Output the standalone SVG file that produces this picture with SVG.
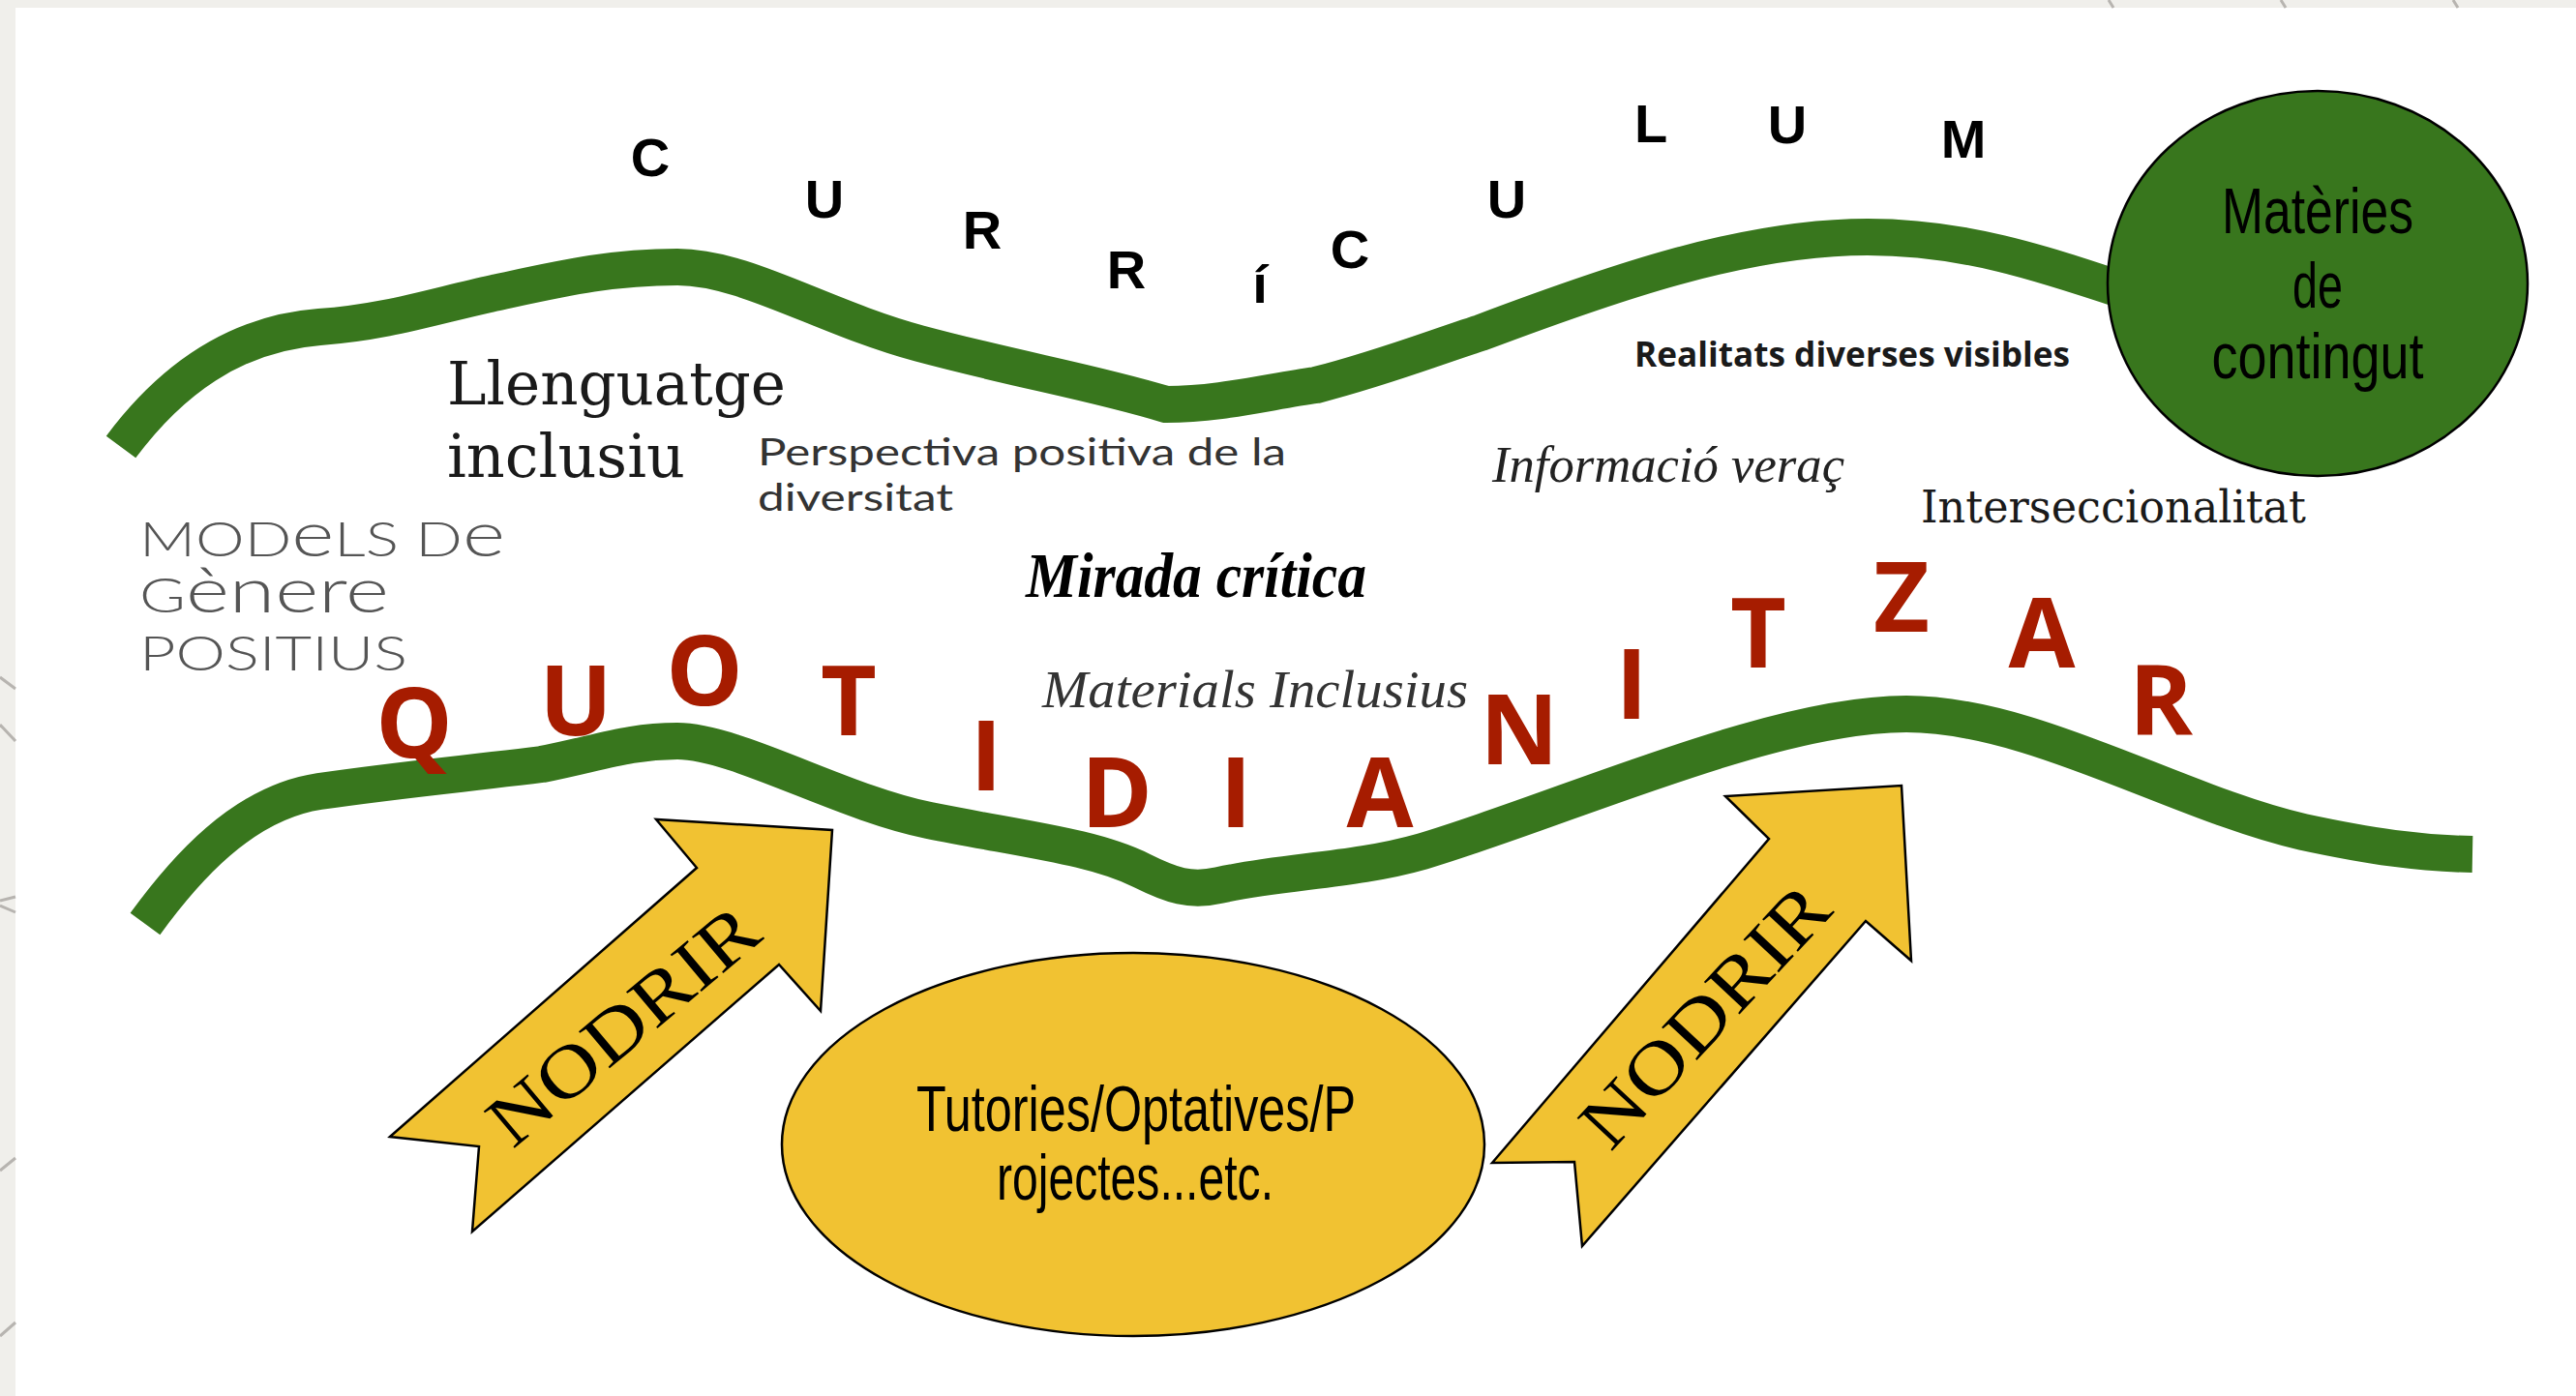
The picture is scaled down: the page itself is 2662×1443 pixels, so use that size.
<svg xmlns="http://www.w3.org/2000/svg" width="2662" height="1443" viewBox="0 0 2662 1443">
<style>
.band{fill:none;stroke:#38761d;stroke-width:38;stroke-linecap:butt;stroke-linejoin:round}
.deco{stroke:#b7b4b0;stroke-width:3;fill:none}
.cur{font-family:"Liberation Sans",Arial,sans-serif;font-weight:700;font-size:56px;fill:#000;text-anchor:middle}
.quo{font-family:"Open Sans","Liberation Sans",sans-serif;font-weight:700;font-size:100px;fill:#a61c00;text-anchor:middle}
.oval{font-family:"Liberation Sans",Arial,sans-serif;font-size:66px;fill:#000;text-anchor:middle}
.serif{font-family:"DejaVu Serif","Liberation Serif",serif;fill:#1a1a1a}
.arrow{fill:#f1c232;stroke:#000;stroke-width:2.5;stroke-linejoin:miter}
.nod{font-family:"Liberation Serif","Times New Roman",serif;font-size:76px;fill:#000;text-anchor:middle}
</style>
<rect x="0" y="0" width="2662" height="1443" fill="#f0efeb"/>
<rect x="16" y="8" width="2646" height="1435" fill="#ffffff"/>
<g id="decoration">
<line class="deco" x1="2179" y1="0" x2="2184" y2="8"/>
<line class="deco" x1="2357" y1="0" x2="2362" y2="8"/>
<line class="deco" x1="2535" y1="0" x2="2540" y2="8"/>
<line class="deco" x1="0" y1="700" x2="16" y2="712"/>
<line class="deco" x1="0" y1="749" x2="16" y2="766"/>
<line class="deco" x1="0" y1="931" x2="16" y2="927"/>
<line class="deco" x1="0" y1="936" x2="16" y2="943"/>
<line class="deco" x1="0" y1="1210" x2="16" y2="1197"/>
<line class="deco" x1="0" y1="1381" x2="16" y2="1367"/>
</g>
<g id="connectors">
<path id="band-top" class="band" d="M 125,462 C 175,395 240,345 330,338 C 400,333 450,316 510,303 C 580,288 630,276 700,276 C 770,276 850,328 950,355 C 1050,382 1130,395 1205,418 C 1260,418 1310,405 1360,398 C 1430,380 1480,360 1530,344 C 1660,295 1800,245 1930,245 C 2030,245 2110,272 2200,302"/>
<path id="band-bottom" class="band" d="M 150,955 C 190,900 250,830 330,818 C 420,805 480,800 560,790 C 620,778 650,766 700,766 C 760,766 870,830 960,848 C 1060,868 1130,875 1180,900 C 1210,915 1230,922 1260,915 C 1330,900 1400,900 1470,880 C 1620,835 1830,738 1970,738 C 2100,738 2250,830 2380,860 C 2450,875 2500,882 2555,883"/>
</g>
<g id="node-materies">
<ellipse cx="2395" cy="293" rx="217" ry="199" fill="#38761d" stroke="#000" stroke-width="2.5"/>
<text class="oval" x="2395" y="241" textLength="198" lengthAdjust="spacingAndGlyphs">Matèries</text>
<text class="oval" x="2395" y="318" textLength="52" lengthAdjust="spacingAndGlyphs">de</text>
<text class="oval" x="2395" y="391" textLength="219" lengthAdjust="spacingAndGlyphs">contingut</text>
</g>
<g id="node-curriculum">
<text class="cur" x="672" y="182">C</text>
<text class="cur" x="852" y="225">U</text>
<text class="cur" x="1015" y="257">R</text>
<text class="cur" x="1164" y="298">R</text>
<text class="cur" x="1302" y="313">í</text>
<text class="cur" x="1395" y="277">C</text>
<text class="cur" x="1557" y="225">U</text>
<text class="cur" x="1706" y="147">L</text>
<text class="cur" x="1847" y="148">U</text>
<text class="cur" x="2029" y="163">M</text>
</g>
<g id="node-quotidianitzar">
<text class="quo" x="428" y="783">Q</text>
<text class="quo" x="595" y="760">U</text>
<text class="quo" x="728" y="729">O</text>
<text class="quo" x="877" y="760">T</text>
<text class="quo" x="1019" y="817">I</text>
<text class="quo" x="1154" y="855">D</text>
<text class="quo" x="1277" y="855">I</text>
<text class="quo" x="1426" y="855">A</text>
<text class="quo" x="1570" y="790">N</text>
<text class="quo" x="1686" y="743">I</text>
<text class="quo" x="1817" y="690">T</text>
<text class="quo" x="1965" y="653">Z</text>
<text class="quo" x="2110" y="690">A</text>
<text class="quo" x="2233" y="760">R</text>
</g>
<g id="node-llenguatge">
<text class="serif" x="462" y="418" font-size="62" textLength="350" lengthAdjust="spacingAndGlyphs">Llenguatge</text>
<text class="serif" x="462" y="493" font-size="62" textLength="246" lengthAdjust="spacingAndGlyphs">inclusiu</text>
</g>
<g id="node-perspectiva">
<text x="783" y="481" font-family="Lato,'Noto Sans',sans-serif" font-size="38" fill="#333" textLength="546" lengthAdjust="spacingAndGlyphs">Perspectiva positiva de la</text>
<text x="783" y="528" font-family="Lato,'Noto Sans',sans-serif" font-size="38" fill="#333" textLength="202" lengthAdjust="spacingAndGlyphs">diversitat</text>
</g>
<g id="node-models" font-family="Lato,'Noto Sans',sans-serif" font-weight="300" fill="#555">
<text x="144" y="575" font-size="50" textLength="378" lengthAdjust="spacingAndGlyphs">MOD<tspan font-size="66">e</tspan>LS D<tspan font-size="66">e</tspan></text>
<text x="144" y="633" font-size="50" textLength="258" lengthAdjust="spacingAndGlyphs">G<tspan font-size="66">ènere</tspan></text>
<text x="144" y="693" font-size="50" textLength="277" lengthAdjust="spacingAndGlyphs">POSITIUS</text>
</g>
<g id="node-realitats">
<text x="1689" y="379" font-family="'Open Sans','Liberation Sans',sans-serif" font-weight="700" font-size="35" fill="#1a1a1a" textLength="450" lengthAdjust="spacingAndGlyphs">Realitats diverses visibles</text>
</g>
<g id="node-informacio">
<text x="1542" y="498" font-family="'Liberation Serif',serif" font-style="italic" font-size="52" fill="#222" textLength="364" lengthAdjust="spacingAndGlyphs">Informació veraç</text>
</g>
<g id="node-interseccionalitat">
<text class="serif" x="1985" y="540" font-size="46" fill="#222" textLength="398" lengthAdjust="spacingAndGlyphs">Interseccionalitat</text>
</g>
<g id="node-mirada">
<text x="1060" y="617" font-family="'Liberation Serif',serif" font-style="italic" font-weight="700" font-size="66" fill="#000" textLength="352" lengthAdjust="spacingAndGlyphs">Mirada crítica</text>
</g>
<g id="node-materials">
<text x="1077" y="731" font-family="'Liberation Serif',serif" font-style="italic" font-size="54" fill="#333" textLength="440" lengthAdjust="spacingAndGlyphs">Materials Inclusius</text>
</g>
<g id="node-arrow-left">
<polygon class="arrow" points="403,1175 720,897 678,847 860,858 848,1045 805,997 488,1273 495,1185"/>
<text class="nod" transform="translate(644,1060) rotate(-40)" x="0" y="25" textLength="340" lengthAdjust="spacingAndGlyphs">NODRIR</text>
</g>
<g id="node-tutories">
<ellipse cx="1171" cy="1183" rx="363" ry="198" fill="#f1c232" stroke="#000" stroke-width="2.5"/>
<text class="oval" x="1174" y="1169" textLength="454" lengthAdjust="spacingAndGlyphs">Tutories/Optatives/P</text>
<text class="oval" x="1173" y="1240" textLength="286" lengthAdjust="spacingAndGlyphs">rojectes...etc.</text>
</g>
<g id="node-arrow-right">
<polygon class="arrow" points="1542,1202 1828,867 1783,823 1965,812 1975,993 1928,952 1635,1288 1627,1201"/>
<text class="nod" transform="translate(1762,1050) rotate(-47)" x="0" y="25" textLength="340" lengthAdjust="spacingAndGlyphs">NODRIR</text>
</g>
</svg>
